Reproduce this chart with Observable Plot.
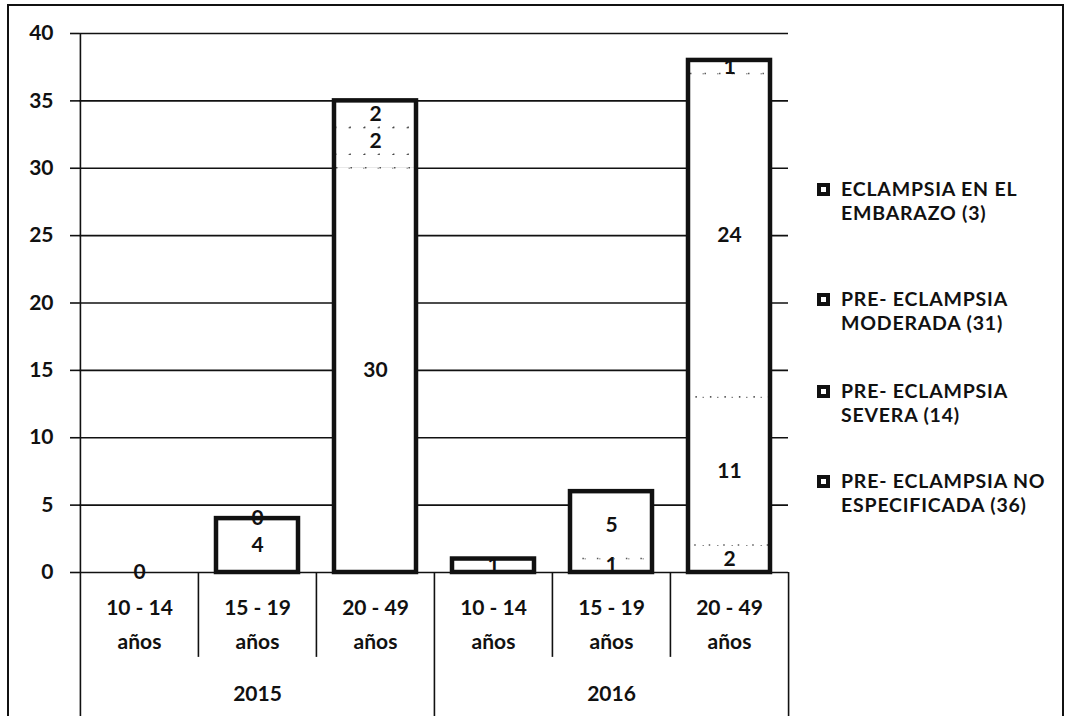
<!DOCTYPE html>
<html>
<head>
<meta charset="utf-8">
<script src="https://cdn.jsdelivr.net/npm/d3@7"></script>
<script src="https://cdn.jsdelivr.net/npm/@observablehq/plot@0.6"></script>
<style>
  html, body { margin: 0; padding: 0; background: #fff; }
  body { width: 1071px; height: 716px; position: relative; overflow: hidden; font-family: Lato, "Open Sans", sans-serif; color: #111; }
  #frame { position: absolute; left: 7px; top: 4px; width: 1057px; height: 740px; border: 2px solid #111; box-sizing: border-box; }
  #chart { position: absolute; left: 0; top: 0; }
  #legend { position: absolute; left: 817px; top: 0; font-size: 19.5px; font-weight: 700; line-height: 24px; letter-spacing: 0.8px; }
  .item { position: absolute; left: 0; white-space: nowrap; }
  .item .sw { position: absolute; left: 0; top: 6px; width: 5px; height: 5px; border: 4.5px solid #111; background: #fff; }
  .item .tx { margin-left: 24px; display: block; }
  .item .ln { display: block; height: 24px; }
</style>
</head>
<body>
<div id="frame"></div>
<div id="chart"></div>
<div id="legend"></div>
<script>
// ---- data ----
const years = ["2015", "2016"];
const ageGroups = ["10 - 14 años", "15 - 19 años", "20 - 49 años"];
// series in stacking order (bottom -> top)
const seriesNames = [
  "PRE- ECLAMPSIA NO ESPECIFICADA (36)",
  "PRE- ECLAMPSIA SEVERA (14)",
  "PRE- ECLAMPSIA MODERADA (31)",
  "ECLAMPSIA EN EL EMBARAZO (3)"
];
// values per category: 2015 (10-14, 15-19, 20-49), 2016 (10-14, 15-19, 20-49)
const noEspecificada = [0, 4, 30, 0, 0, 2];
const severa         = [0, 0, 1, 1, 1, 11];
const moderada       = [0, 0, 2, 0, 5, 24];
const eclampsia      = [0, 0, 2, 0, 0, 1];
// data labels as printed on the chart ("" = not shown / hidden under another label)
const noEspecificadaLabels = ["0", "4", "30", "", "", "2"];
const severaLabels         = ["", "", "", "1", "1", "11"];
const moderadaLabels       = ["", "", "2", "", "5", "24"];
const eclampsiaLabels      = ["", "0", "2", "", "", "1"];
const yTicks = [0, 5, 10, 15, 20, 25, 30, 35, 40];
// legend lines as printed
const legendLines = [
  ["ECLAMPSIA EN EL", "EMBARAZO (3)"],
  ["PRE- ECLAMPSIA", "MODERADA (31)"],
  ["PRE- ECLAMPSIA", "SEVERA (14)"],
  ["PRE- ECLAMPSIA NO", "ESPECIFICADA (36)"]
];

// ---- build tables ----
const categories = [];
years.forEach(y => ageGroups.forEach(a => categories.push({key: y + "|" + a, year: y, age: a})));
const keys = categories.map(c => c.key);
const valueSets = [noEspecificada, severa, moderada, eclampsia];
const labelSets = [noEspecificadaLabels, severaLabels, moderadaLabels, eclampsiaLabels];
const long = [];
categories.forEach((c, i) => {
  seriesNames.forEach((s, j) => {
    long.push({key: c.key, series: s, value: valueSets[j][i], label: labelSets[j][i]});
  });
});
const totals = categories.map((c, i) => ({key: c.key, total: d3.sum(valueSets, v => v[i])}));

// ---- layout ----
const W = 800, H = 716, mL = 79, mR = 12, mT = 33, mB = 144;
const step = (W - mL - mR) / keys.length;
const inset = 18;

const innerDividers = categories.filter(c => c.age !== ageGroups[0]).map(c => c.key);
const yearStarts = categories.filter(c => c.age === ageGroups[0]).map(c => c.key);
const yearMids = categories.filter(c => c.age === ageGroups[1]);

const chart = Plot.plot({
  width: W, height: H,
  marginLeft: mL, marginRight: mR, marginTop: mT, marginBottom: mB,
  style: {fontFamily: "Lato, 'Open Sans', sans-serif", fontSize: "21px", fontWeight: 700, color: "#111", background: "transparent", overflow: "visible"},
  x: {domain: keys, padding: 0, axis: null},
  y: {domain: [0, 40], axis: null},
  marks: [
    Plot.gridY(yTicks, {stroke: "#111", strokeOpacity: 1, strokeWidth: 1.6}),
    Plot.axisY(yTicks, {tickSize: 9, tickPadding: 17, strokeWidth: 1.6, fontSize: 21}),
    // stacked segments
    Plot.barY(long, {x: "key", y: "value", z: "series", fill: "#fff", stroke: "#111",
      strokeWidth: 1.6, strokeDasharray: "1.5,13", strokeOpacity: 0.7, insetLeft: inset, insetRight: inset}),
    // heavy outline of each column
    Plot.barY(totals.filter(d => d.total > 0), {x: "key", y: "total", fill: "none", stroke: "#111",
      strokeWidth: 4.5, insetLeft: inset, insetRight: inset}),
    // data labels (stacked over all series; hidden ones have empty text)
    Plot.text(long, Plot.stackY({x: "key", y: "value", z: "series", text: "label", fontSize: 21, fill: "#111"})),
    // category table lines
    Plot.ruleX(keys.slice(0, 1), {x: d => d, dx: -step / 2, y1: 40, y2: -11, stroke: "#111", strokeWidth: 1.6}),
    Plot.ruleX(innerDividers, {x: d => d, dx: -step / 2, y1: 0, y2: -6.3, stroke: "#111", strokeWidth: 1.6}),
    Plot.ruleX(yearStarts.slice(1), {x: d => d, dx: -step / 2, y1: 0, y2: -11, stroke: "#111", strokeWidth: 1.6}),
    Plot.ruleX(keys.slice(-1), {x: d => d, dx: step / 2, y1: 0, y2: -11, stroke: "#111", strokeWidth: 1.6}),
    // age labels
    Plot.text(categories, {x: "key", text: d => d.age.replace(" años", "\naños"), frameAnchor: "bottom",
      dy: 76, lineHeight: 1.58, fontSize: 21, fill: "#111"}),
    // year labels
    Plot.text(yearMids, {x: "key", text: "year", frameAnchor: "bottom", dy: 128, fontSize: 21, fill: "#111"})
  ]
});
document.getElementById("chart").appendChild(chart);

// ---- legend ----
const legendTops = [177, 287, 379, 469];
const legend = document.getElementById("legend");
legendLines.forEach((lines, i) => {
  const it = document.createElement("div");
  it.className = "item";
  it.style.top = legendTops[i] + "px";
  const sw = document.createElement("span"); sw.className = "sw";
  it.appendChild(sw);
  const tx = document.createElement("span"); tx.className = "tx";
  lines.forEach(l => {
    const ln = document.createElement("span"); ln.className = "ln";
    ln.textContent = l;
    tx.appendChild(ln);
  });
  it.appendChild(tx);
  legend.appendChild(it);
});
</script>
</body>
</html>
